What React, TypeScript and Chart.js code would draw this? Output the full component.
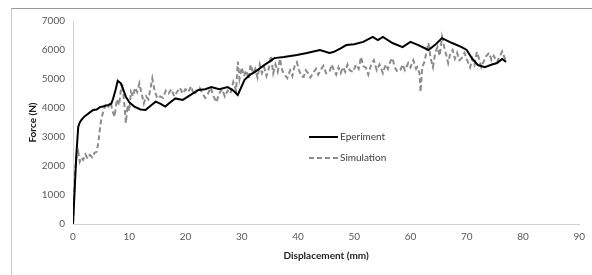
import React, { useEffect, useRef } from "react";
import { Chart, registerables } from "chart.js";

Chart.register(...registerables);

const xTicks = [0, 10, 20, 30, 40, 50, 60, 70, 80, 90];
const yTicks = [0, 1000, 2000, 3000, 4000, 5000, 6000, 7000];

const expX = [0, 0.3, 0.6, 0.93, 1.2, 1.5, 2.0, 2.4, 3.0, 3.6, 4.2, 4.8, 5.3, 6.2, 6.8, 7.1, 7.6, 7.95, 8.5, 9.0, 9.4, 10.0, 10.9, 12.0, 12.9, 13.8, 14.7, 15.5, 16.4, 17.3, 18.2, 19.5, 20.5, 22.3, 23.5, 24.6, 26.0, 27.5, 28.5, 29.3, 30.5, 31.5, 32.3, 34.0, 35.8, 37.5, 39.8, 41.6, 43.9, 45.6, 46.3, 47.5, 48.6, 50.0, 51.6, 53.3, 54.2, 55.1, 56.8, 58.6, 60.0, 61.4, 63.2, 64.5, 65.6, 67.4, 69.1, 70.0, 70.9, 72.0, 73.2, 74.5, 75.4, 76.3, 77.0];
const expY = [0, 1200, 2400, 3350, 3500, 3590, 3700, 3760, 3850, 3930, 3950, 4030, 4050, 4100, 4150, 4300, 4650, 4940, 4850, 4600, 4390, 4200, 4050, 3950, 3930, 4080, 4220, 4150, 4050, 4200, 4330, 4280, 4400, 4620, 4650, 4720, 4650, 4720, 4600, 4450, 4970, 5150, 5240, 5480, 5720, 5760, 5830, 5900, 6000, 5900, 5930, 6050, 6170, 6200, 6280, 6450, 6340, 6450, 6240, 6100, 6280, 6170, 6000, 6200, 6410, 6240, 6100, 6000, 5720, 5480, 5410, 5500, 5550, 5690, 5590];

const simX = [0, 0.2, 0.35, 0.6, 0.93, 1.2, 1.5, 1.8, 2.2, 2.6, 3.0, 3.4, 3.8, 4.2, 4.5, 4.7, 5.0, 5.4, 5.9, 6.3, 6.7, 7.0, 7.4, 7.8, 8.2, 8.5, 8.8, 9.1, 9.4, 9.7, 10.0, 10.3, 10.7, 11.0, 11.4, 11.8, 12.2, 12.6, 13.0, 13.4, 13.8, 14.1, 14.5, 15.0, 15.5, 16.0, 16.5, 17.0, 17.5, 18.0, 18.5, 19.0, 19.5, 20.0, 20.5, 21.0, 21.5, 22.0, 22.5, 23.0, 23.5, 24.0, 24.5, 25.0, 25.5, 26.0, 26.5, 27.0, 27.5, 28.0, 28.5, 29.0, 29.3, 29.6, 30.0, 30.4, 30.8, 31.2, 31.6, 32.0, 32.4, 32.8, 33.2, 33.6, 34.0, 34.4, 34.8, 35.2, 35.6, 36.0, 36.4, 36.8, 37.2, 37.6, 38.1, 38.6, 39.0, 39.4, 39.8, 40.2, 40.6, 41.0, 41.4, 41.8, 42.2, 42.8, 43.2, 43.6, 44.0, 44.5, 45.0, 45.6, 46.0, 46.4, 46.8, 47.2, 47.6, 48.0, 48.4, 48.8, 49.2, 49.8, 50.3, 50.8, 51.2, 51.6, 52.1, 52.5, 53.0, 53.5, 54.0, 54.5, 55.1, 55.6, 56.0, 56.4, 56.8, 57.2, 57.7, 58.2, 58.6, 59.0, 59.6, 60.0, 60.5, 61.0, 61.2, 61.6, 61.8, 62.1, 62.5, 62.8, 63.2, 63.6, 64.0, 64.4, 64.8, 65.2, 65.6, 66.0, 66.4, 66.7, 67.1, 67.5, 67.9, 68.3, 68.7, 69.1, 69.6, 70.2, 70.6, 71.0, 71.4, 71.8, 72.2, 72.6, 73.0, 73.5, 74.0, 74.4, 74.8, 75.4, 75.8, 76.3, 76.8, 77.2];
const simY = [0, 900, 1750, 2300, 2490, 2150, 2300, 2210, 2400, 2250, 2380, 2300, 2450, 2490, 2800, 3130, 3590, 3900, 4160, 4050, 4200, 3900, 3700, 4300, 4100, 4600, 4740, 4200, 3480, 4100, 3900, 4560, 4400, 4700, 4550, 4850, 4500, 4160, 4400, 4300, 4700, 5020, 4600, 4330, 4400, 4350, 4600, 4500, 4650, 4400, 4550, 4700, 4500, 4650, 4550, 4750, 4450, 4600, 4700, 4500, 4350, 4500, 4700, 4400, 4200, 4500, 4650, 4400, 4600, 4500, 4900, 4600, 5600, 5000, 5400, 5100, 5300, 5000, 5500, 5200, 5350, 5050, 5500, 5200, 5400, 5100, 5350, 5800, 5200, 5500, 5250, 5700, 5300, 5150, 5030, 5300, 5100, 5450, 5580, 5300, 5100, 5070, 5300, 5200, 5050, 5240, 5350, 5150, 5300, 5450, 5200, 5240, 5500, 5300, 5150, 5400, 5200, 5410, 5250, 5500, 5300, 5240, 5500, 5350, 5760, 5450, 5380, 5150, 5500, 5650, 5300, 5500, 5200, 5500, 5350, 5600, 5720, 5400, 5250, 5310, 5500, 5300, 5550, 5400, 5650, 5350, 5410, 5200, 4550, 5410, 5600, 5900, 6240, 5700, 5410, 5900, 6100, 5800, 6450, 6100, 5800, 5550, 5900, 6000, 5700, 5900, 5650, 5720, 5900, 5590, 5400, 5700, 5500, 5930, 5700, 5410, 5600, 5800, 5900, 5650, 5800, 5590, 5750, 5950, 5700, 5800];

const seriesNames = ["Eperiment", "Simulation"];

const legendPlugin = {
  id: "customLegend",
  afterDraw(chart: any) {
    const ctx = chart.ctx;
    const items = [
      { label: seriesNames[0], color: "#000000", dash: [] as number[], y: 137 },
      { label: seriesNames[1], color: "#8c8c8c", dash: [5, 3], y: 158 },
    ];
    ctx.save();
    items.forEach((it) => {
      ctx.beginPath();
      ctx.setLineDash(it.dash);
      ctx.strokeStyle = it.color;
      ctx.lineWidth = 2;
      ctx.moveTo(309, it.y);
      ctx.lineTo(338, it.y);
      ctx.stroke();
      ctx.setLineDash([]);
      ctx.fillStyle = "#404040";
      ctx.font = "10px Lato";
      ctx.textBaseline = "middle";
      ctx.textAlign = "left";
      ctx.fillText(it.label, 340, it.y);
    });
    ctx.restore();
  },
};

export default function App() {
  const ref = useRef<HTMLCanvasElement>(null);
  useEffect(() => {
    if (!ref.current) return;
    const chart = new Chart(ref.current, {
      type: "line",
      data: {
        datasets: [
          {
            label: seriesNames[0],
            data: expX.map((x, i) => ({ x, y: expY[i] })),
            borderColor: "#000000",
            borderWidth: 2,
            pointRadius: 0,
            tension: 0,
            fill: false,
          },
          {
            label: seriesNames[1],
            data: simX.map((x, i) => ({ x, y: simY[i] })),
            borderColor: "#8c8c8c",
            borderWidth: 2,
            borderDash: [5, 3],
            pointRadius: 0,
            tension: 0,
            fill: false,
          },
        ],
      },
      options: {
        animation: false,
        responsive: false,
        maintainAspectRatio: false,
        layout: { padding: { left: 0, right: 6, top: 21, bottom: 0 } },
        plugins: { legend: { display: false }, tooltip: { enabled: false } },
        scales: {
          x: {
            type: "linear",
            min: 0,
            max: 90,
            afterBuildTicks: (s: any) => {
              s.ticks = xTicks.map((v) => ({ value: v }));
            },
            afterFit: (s: any) => {
              s.height = 51;
            },
            grid: { drawOnChartArea: false, drawTicks: false },
            border: { display: true, color: "#d0d0d0", width: 1 },
            ticks: {
              color: "#595959",
              font: { family: "Lato", size: 10 },
              padding: 7,
              maxRotation: 0,
              callback: (v: any) => String(v),
            },
            title: {
              display: true,
              text: "Displacement (mm)",
              color: "#222222",
              font: { family: "Lato", size: 10, weight: "bold" },
              padding: { top: 0, bottom: 13 },
            },
          },
          y: {
            type: "linear",
            min: 0,
            max: 7000,
            afterBuildTicks: (s: any) => {
              s.ticks = yTicks.map((v) => ({ value: v }));
            },
            afterFit: (s: any) => {
              s.width = 73;
            },
            grid: { drawOnChartArea: false, drawTicks: false },
            border: { display: true, color: "#d0d0d0", width: 1 },
            ticks: {
              color: "#595959",
              font: { family: "Lato", size: 10 },
              padding: 8,
              callback: (v: any) => String(v),
            },
            title: {
              display: true,
              text: "Force (N)",
              color: "#222222",
              font: { family: "Lato", size: 10, weight: "bold" },
              padding: { top: 27, bottom: 0 },
            },
          },
        },
      },
      plugins: [legendPlugin],
    });
    return () => chart.destroy();
  }, []);
  return (
    <div style={{ position: "fixed", left: 0, top: 0, width: 592, height: 275, background: "#ffffff", overflow: "hidden" }}>
      <div
        style={{
          position: "absolute",
          left: 11,
          top: 8,
          width: 700,
          height: 400,
          borderTop: "1px solid #9a9a9a",
          borderLeft: "1px solid #c8c8c8",
        }}
      />
      <canvas ref={ref} width={592} height={275} style={{ position: "absolute", left: 0, top: 0, width: 592, height: 275 }} />
    </div>
  );
}
